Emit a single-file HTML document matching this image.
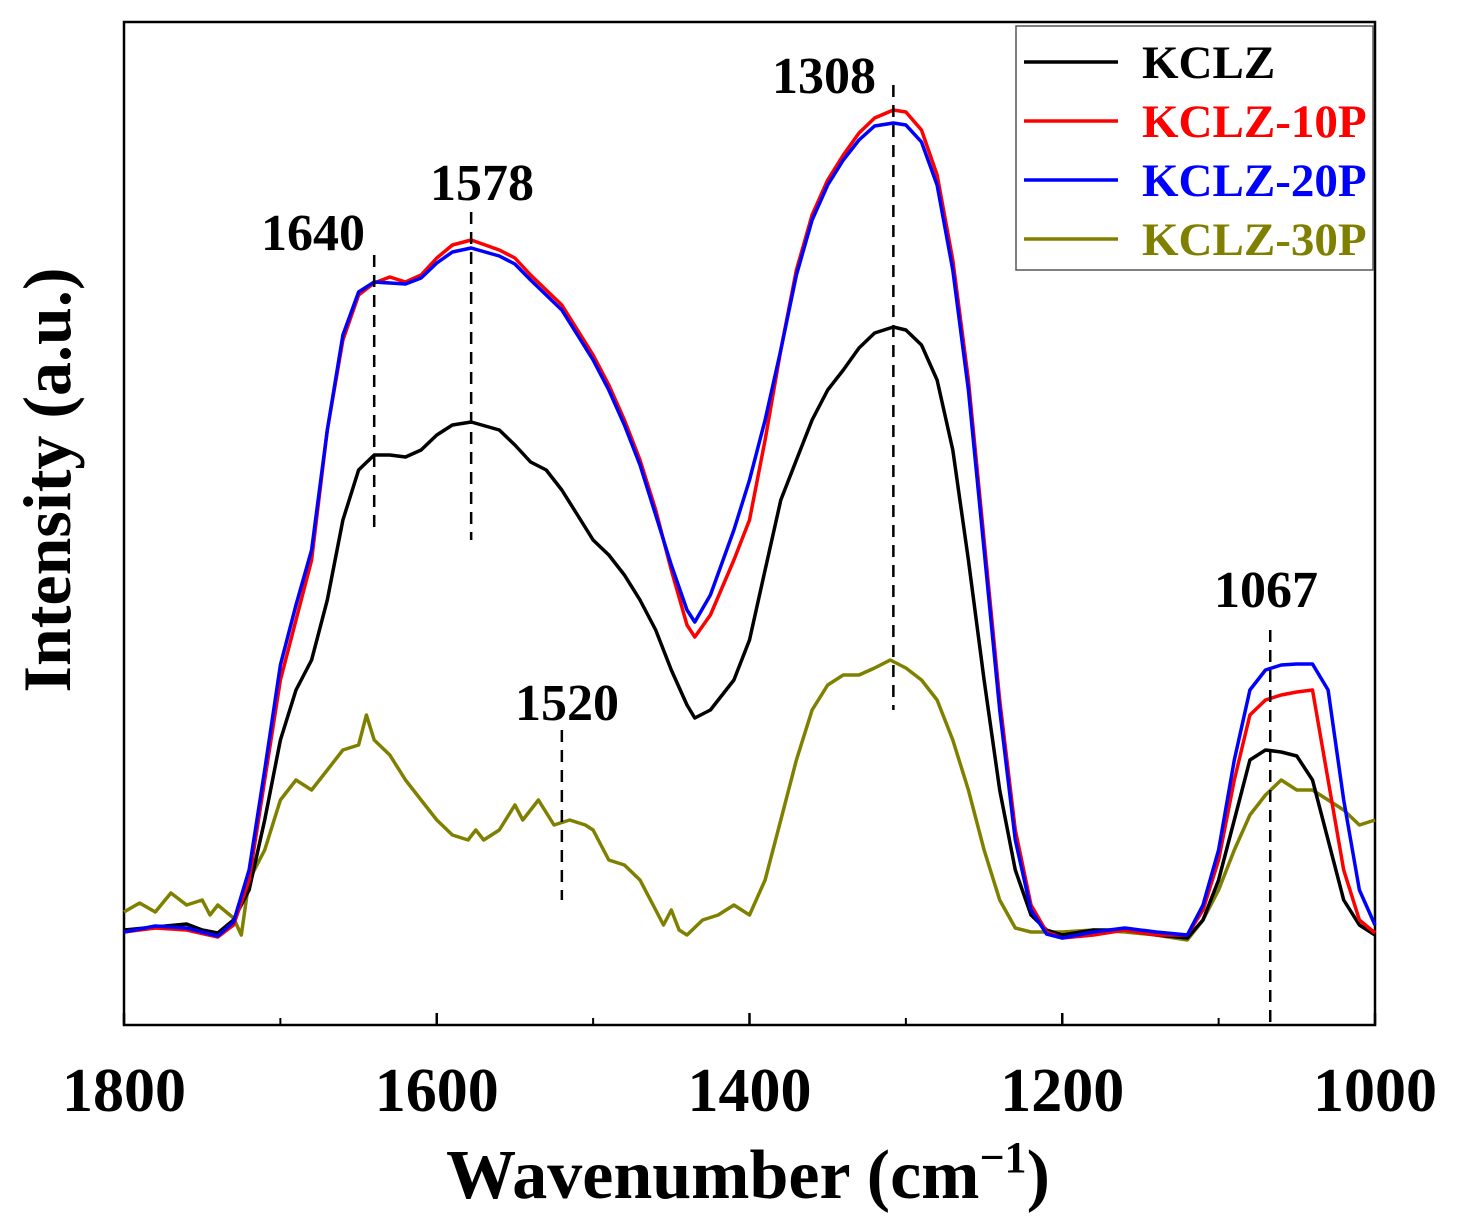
<!DOCTYPE html>
<html><head><meta charset="utf-8"><style>
body{margin:0;background:#fff}
svg{display:block;font-family:"Liberation Serif",serif;font-weight:bold}
</style></head><body>
<svg id="chart" width="1458" height="1232" viewBox="0 0 1458 1232" xmlns="http://www.w3.org/2000/svg">
<rect x="124" y="22" width="1251" height="1003" fill="none" stroke="#000" stroke-width="2.5"/>
<g id="ticks"></g>
<g id="series"></g>
<g id="marks"></g>
<text x="47" y="480" transform="rotate(-90 47 480)" text-anchor="middle" dominant-baseline="central" font-size="68">Intensity (a.u.)</text>
<text x="748" y="1198" text-anchor="middle" font-size="70">Wavenumber (cm<tspan dy="-26" font-size="44">−1</tspan><tspan dy="26">)</tspan></text>
<g>
<rect x="1016" y="26" width="357" height="244" fill="#fff" stroke="#555" stroke-width="1.5"/>
<g id="legend"></g>
</g>
</svg>
<script>
const xTicks=[1800,1600,1400,1200,1000];
const xMinor=[1700,1500,1300,1100];
const seriesNames=["KCLZ","KCLZ-10P","KCLZ-20P","KCLZ-30P"];
const seriesColors=["#000","#f00","#00f","#808000"];
const kclzW=[1800,1780,1760,1750,1740,1730,1720,1710,1700,1690,1680,1670,1660,1650,1640,1630,1620,1610,1600,1590,1578,1560,1550,1540,1530,1520,1510,1500,1490,1480,1470,1460,1450,1440,1435,1425,1410,1400,1390,1380,1370,1360,1350,1340,1330,1320,1308,1300,1290,1280,1270,1260,1250,1240,1230,1220,1210,1200,1180,1160,1140,1120,1110,1100,1090,1080,1070,1060,1050,1040,1030,1020,1010,1000];
const kclzPy=[930,927,924,930,933,920,890,820,740,690,660,600,520,470,455,455,457,450,435,425,422,430,445,462,470,490,515,540,555,575,600,630,670,705,718,710,680,640,570,500,460,420,390,370,348,333,327,330,345,380,450,560,680,790,870,915,930,935,930,930,935,938,920,880,820,760,750,752,756,780,840,900,925,935];
const p10W=[1800,1780,1760,1740,1730,1720,1710,1700,1690,1680,1670,1660,1650,1640,1630,1620,1610,1600,1590,1578,1560,1550,1540,1530,1520,1510,1500,1490,1480,1470,1460,1450,1440,1435,1425,1410,1400,1390,1380,1370,1360,1350,1340,1330,1320,1308,1300,1290,1280,1270,1260,1250,1240,1230,1220,1210,1200,1180,1160,1140,1120,1110,1100,1090,1080,1070,1060,1050,1040,1030,1020,1010,1000];
const p10Py=[932,928,930,937,925,880,780,680,620,560,430,340,295,283,277,282,275,258,245,240,250,258,275,290,305,330,355,385,420,460,510,570,625,637,615,560,520,440,350,270,215,180,155,133,118,110,112,130,175,260,380,540,700,830,905,932,938,935,930,935,935,910,860,780,715,700,695,692,690,780,870,920,933];
const p20W=p10W;
const p20Py=[932,926,928,936,922,870,770,665,605,550,430,335,292,282,283,284,278,263,252,248,256,264,280,295,310,335,360,390,425,465,515,565,610,622,595,530,480,420,350,275,220,185,160,140,126,123,125,142,185,270,390,550,710,840,910,934,938,932,928,932,935,905,850,760,690,670,665,664,664,690,800,890,925];
const p30W=[1800,1790,1780,1770,1760,1750,1745,1740,1730,1725,1720,1710,1700,1690,1680,1670,1660,1650,1645,1640,1630,1620,1610,1600,1590,1580,1575,1570,1560,1550,1545,1535,1525,1515,1505,1500,1490,1480,1470,1460,1455,1450,1445,1440,1430,1420,1410,1400,1390,1380,1370,1360,1350,1340,1330,1320,1310,1300,1290,1280,1270,1260,1250,1240,1230,1220,1200,1180,1160,1140,1120,1110,1100,1090,1080,1070,1060,1050,1040,1030,1020,1010,1000];
const p30Py=[912,903,912,893,905,900,915,905,918,935,880,850,800,780,790,770,750,745,715,740,755,780,800,820,835,840,830,840,830,805,820,800,825,820,825,830,860,865,880,910,925,910,930,935,920,915,905,915,880,820,760,710,685,675,675,668,660,668,680,700,740,790,850,900,928,932,932,930,932,935,940,920,890,850,815,795,780,790,790,800,810,825,820];
const peakLabels=["1640","1578","1520","1308","1067"];
const peakW=[1640,1578,1520,1308,1067];
const peakTop=[255,212,730,85,630];
const peakBot=[535,540,900,710,1025];
const peakLabelY=[250,200,720,93,607];
const peakLabelX=[313,482,567,824,1266];

const NS="http://www.w3.org/2000/svg";
const X=w=>124+(1800-w)/800*1251;
const toVal=py=>(1025-py)/10;
const Y=v=>1025-v*10;
function mk(t,a,p){const e=document.createElementNS(NS,t);for(const k in a)e.setAttribute(k,a[k]);p.appendChild(e);return e;}
const tk=document.getElementById('ticks');
xTicks.forEach(w=>{
 const l=mk('line',{x1:X(w),x2:X(w),y1:1025,y2:1013,stroke:'#000','stroke-width':2.5},tk);
 
 
 const t=mk('text',{x:X(w),y:1111,'text-anchor':'middle','font-size':62},tk);
 t.textContent=w;
 
 
});
xMinor.forEach(w=>{
 const l=mk('line',{x1:X(w),x2:X(w),y1:1025,y2:1018,stroke:'#000','stroke-width':2},tk);
 
 
});
const sg=document.getElementById('series');
const data=[[kclzW,kclzPy],[p10W,p10Py],[p20W,p20Py],[p30W,p30Py]];
[3,0,1,2].forEach(i=>{
 const [ws,ps]=data[i];
 const vals=ps.map(toVal);
 const d=ws.map((w,j)=>(j?'L':'M')+X(w).toFixed(1)+' '+Y(vals[j]).toFixed(1)).join(' ');
 const p=mk('path',{d:d,fill:'none',stroke:seriesColors[i],'stroke-width':3.5,'stroke-linejoin':'round'},sg);
 
 
});
const mg=document.getElementById('marks');
peakW.forEach((w,i)=>{
 const l=mk('line',{x1:X(w),x2:X(w),y1:peakTop[i],y2:peakBot[i],stroke:'#000','stroke-width':2.5,'stroke-dasharray':'12 8'},mg);
 
 
 const t=mk('text',{x:peakLabelX[i],y:peakLabelY[i],'text-anchor':'middle','font-size':52},mg);
 t.textContent=peakLabels[i];
 
 
});
const lg=document.getElementById('legend');
seriesNames.forEach((n,i)=>{
 const y=62+i*59;
 const l=mk('line',{x1:1024,x2:1118,y1:y,y2:y,stroke:seriesColors[i],'stroke-width':3.5},lg);
 
 
 const t=mk('text',{x:1142,y:y+16,'font-size':47,fill:seriesColors[i]},lg);
 t.textContent=n;
 
 
});
</script>
</body></html>
